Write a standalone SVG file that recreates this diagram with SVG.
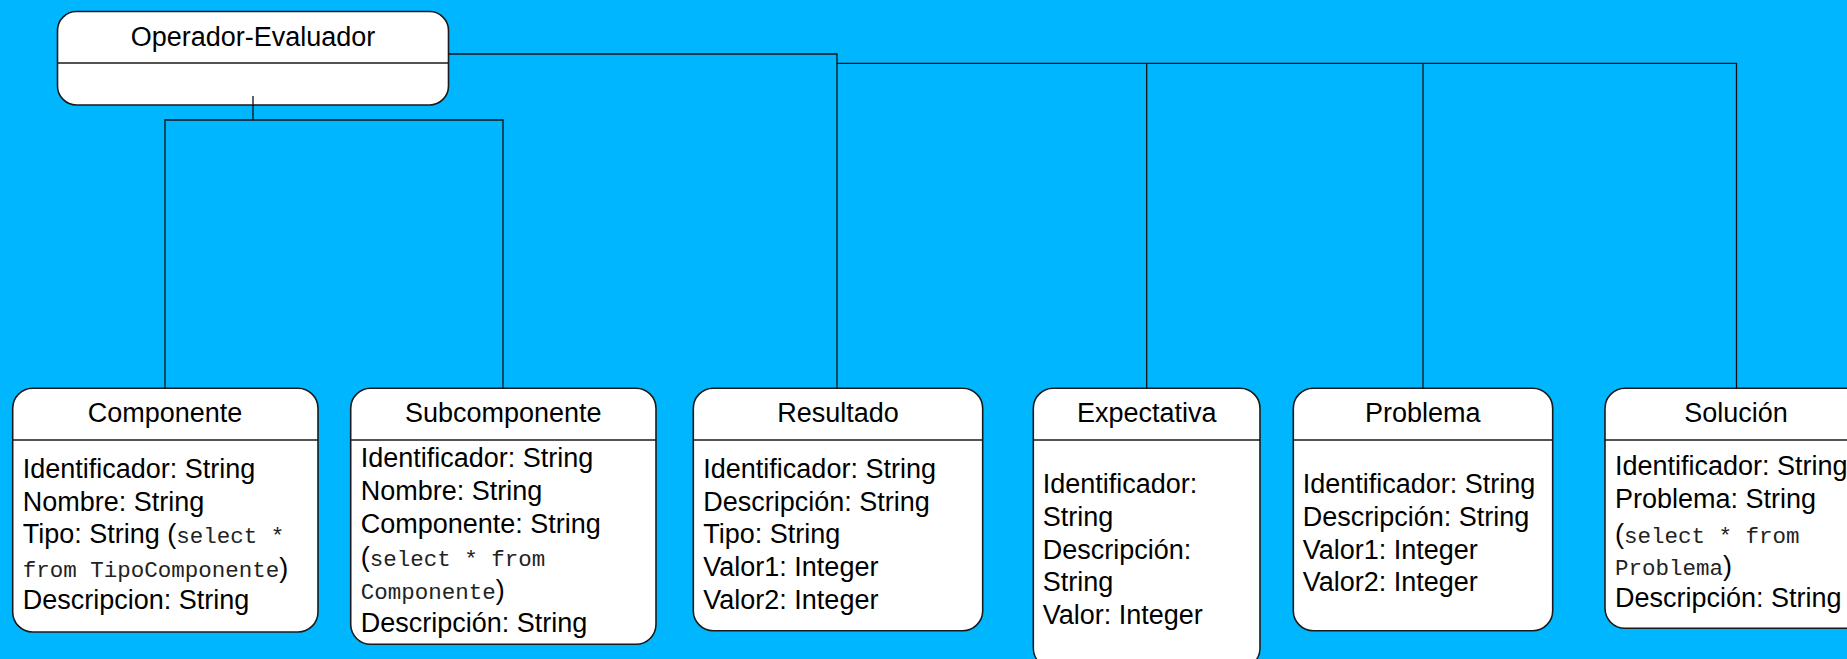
<svg xmlns="http://www.w3.org/2000/svg" width="1847" height="659" viewBox="0 0 1847 659">
<style>
.bg{fill:#00B7FF}
.box{fill:#fff;stroke:#1a1a1a;stroke-width:1.6}
.div{stroke:#1a1a1a;stroke-width:1.6;fill:none}
.con{stroke:#111;stroke-width:1.3;fill:none}
.t{font-family:"Liberation Sans",Arial,sans-serif;font-size:27px;fill:#000}
.c{text-anchor:middle}
.m{font-family:"Liberation Mono","Courier New",monospace;font-size:22.5px;fill:#222}
</style>
<rect class="bg" x="0" y="0" width="1847" height="659"/>

<g id="operador-evaluador">
<rect class="box" x="57.5" y="11.5" width="391" height="93.5" rx="19"/>
<line class="div" x1="57.5" y1="63" x2="448.5" y2="63"/>
<text class="t c" x="253" y="45.5">Operador-Evaluador</text>
</g>

<g id="componente">
<rect class="box" x="12.7" y="388.3" width="305.3" height="243.7" rx="20"/>
<line class="div" x1="12.7" y1="440" x2="318" y2="440"/>
<text class="t c" x="165" y="421.5">Componente</text>
<text class="t" x="22.7" y="477.7">Identificador: String</text>
<text class="t" x="22.7" y="510.5">Nombre: String</text>
<text class="t" x="22.7" y="543.3">Tipo: String (<tspan class="m">select *</tspan></text>
<text class="t" x="22.7" y="576.5"><tspan class="m">from TipoComponente</tspan>)</text>
<text class="t" x="22.7" y="609.3">Descripcion: String</text>
</g>

<g id="subcomponente">
<rect class="box" x="350.7" y="388.3" width="305.3" height="256" rx="20"/>
<line class="div" x1="350.7" y1="440" x2="656" y2="440"/>
<text class="t c" x="503.3" y="421.5">Subcomponente</text>
<text class="t" x="360.7" y="467.3">Identificador: String</text>
<text class="t" x="360.7" y="500">Nombre: String</text>
<text class="t" x="360.7" y="532.8">Componente: String</text>
<text class="t" x="360.7" y="565.7">(<tspan class="m">select * from</tspan></text>
<text class="t" x="360.7" y="598.5"><tspan class="m">Componente</tspan>)</text>
<text class="t" x="360.7" y="631.5">Descripción: String</text>
</g>

<g id="resultado">
<rect class="box" x="693.3" y="388.3" width="289.4" height="242.4" rx="20"/>
<line class="div" x1="693.3" y1="440" x2="982.7" y2="440"/>
<text class="t c" x="838" y="421.5">Resultado</text>
<text class="t" x="703.3" y="477.7">Identificador: String</text>
<text class="t" x="703.3" y="510.5">Descripción: String</text>
<text class="t" x="703.3" y="543.3">Tipo: String</text>
<text class="t" x="703.3" y="576.2">Valor1: Integer</text>
<text class="t" x="703.3" y="609.3">Valor2: Integer</text>
</g>

<g id="expectativa">
<rect class="box" x="1033.3" y="388.3" width="226.7" height="280" rx="20"/>
<line class="div" x1="1033.3" y1="440" x2="1260" y2="440"/>
<text class="t c" x="1146.7" y="421.5">Expectativa</text>
<text class="t" x="1042.7" y="493.3">Identificador:</text>
<text class="t" x="1042.7" y="525.9">String</text>
<text class="t" x="1042.7" y="558.5">Descripción:</text>
<text class="t" x="1042.7" y="591.1">String</text>
<text class="t" x="1042.7" y="624.2">Valor: Integer</text>
</g>

<g id="problema">
<rect class="box" x="1293.3" y="388.3" width="259.4" height="242.4" rx="20"/>
<line class="div" x1="1293.3" y1="440" x2="1552.7" y2="440"/>
<text class="t c" x="1422.8" y="421.5">Problema</text>
<text class="t" x="1302.7" y="493.3">Identificador: String</text>
<text class="t" x="1302.7" y="525.9">Descripción: String</text>
<text class="t" x="1302.7" y="558.5">Valor1: Integer</text>
<text class="t" x="1302.7" y="591.1">Valor2: Integer</text>
</g>

<g id="solucion">
<rect class="box" x="1605" y="388.3" width="262" height="240" rx="20"/>
<line class="div" x1="1605" y1="440" x2="1867" y2="440"/>
<text class="t c" x="1736" y="421.5">Solución</text>
<text class="t" x="1615" y="475">Identificador: String</text>
<text class="t" x="1615" y="508.3">Problema: String</text>
<text class="t" x="1615" y="542.5">(<tspan class="m">select * from</tspan></text>
<text class="t" x="1615" y="575">
<tspan class="m">Problema</tspan>)</text>
<text class="t" x="1615" y="606.7">Descripción: String</text>
</g>

<g id="connectors">
<path class="con" d="M253,96 V120"/>
<path class="con" d="M165,388.3 V120 H503 V388.3"/>
<path class="con" d="M448.5,54 H837 V388.3"/>
<path class="con" d="M837,63.3 H1736.5 V388.3"/>
<path class="con" d="M1146.7,63.3 V388.3"/>
<path class="con" d="M1423,63.3 V388.3"/>
</g>
</svg>
